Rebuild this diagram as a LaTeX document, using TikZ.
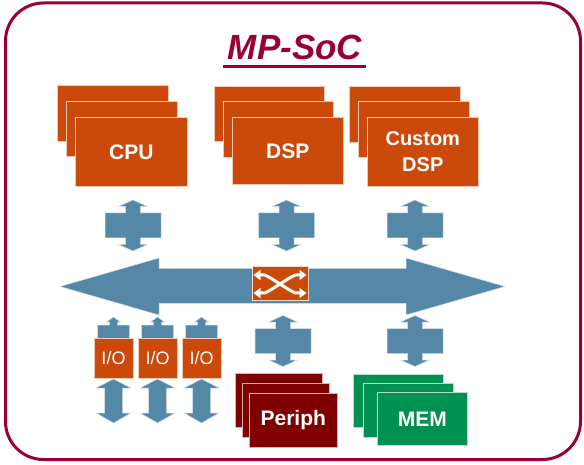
\documentclass[tikz,border=0pt]{standalone}
\usepackage{fontspec}
\setmainfont{Liberation Sans}
\usetikzlibrary{arrows.meta}
\definecolor{crim}{HTML}{990033}
\definecolor{orng}{HTML}{CB4A0A}
\definecolor{dred}{HTML}{800000}
\definecolor{mgreen}{HTML}{009150}
\definecolor{busblue}{HTML}{5588A6}
\tikzset{
  card/.style={draw=white!70!#1, line width=0.6pt, fill=#1, inner sep=0pt, anchor=north west, text=white, font=\bfseries\fontsize{21}{26}\selectfont, align=center},
  iobox/.style={fill=orng, draw=white!70!orng, line width=0.5pt, inner sep=0pt, minimum width=39pt, minimum height=40pt, text=white, font=\fontsize{18}{20}\selectfont},
  blueshape/.style={fill=busblue, draw=white!75!busblue, line width=0.5pt},
  swarrow/.style={white, line width=3pt, {Triangle[length=7pt,width=10pt]}-{Triangle[length=7pt,width=10pt]}},
  udcall/.pic={
    \path[blueshape] (0,-25.5) -- (14.5,-19) -- (7.5,-19) -- (7.5,-12.5) -- (28,-12.5) -- (28,12.5) -- (7.5,12.5) -- (7.5,19) -- (14.5,19) -- (0,25.5) -- (-14.5,19) -- (-7.5,19) -- (-7.5,12.5) -- (-28,12.5) -- (-28,-12.5) -- (-7.5,-12.5) -- (-7.5,-19) -- (-14.5,-19) -- cycle;
  },
  uphalf/.pic={
    \path[blueshape] (0,-21) -- (7,-16) -- (4,-16) -- (4,-13) -- (16,-13) -- (16,2) -- (-16,2) -- (-16,-13) -- (-4,-13) -- (-4,-16) -- (-7,-16) -- cycle;
  },
  dblarrow/.pic={
    \path[blueshape] (0,0) -- (17.5,9) -- (9,9) -- (9,34) -- (17.5,34) -- (0,44) -- (-17.5,34) -- (-9,34) -- (-9,9) -- (-17.5,9) -- cycle;
  }
}
\begin{document}
\begin{tikzpicture}[x=1pt,y=-1pt]
\useasboundingbox (0,0) rectangle (584,465);
\fill[white] (0,0) rectangle (584,465);
% frame
\draw[crim, line width=3pt, rounded corners=38pt] (5.5,3) rectangle (580.5,459.5);
% title
\node[text=crim, font=\bfseries\itshape\fontsize{35}{40}\selectfont] (title) at (295,47) {MP-SoC};
\draw[crim, line width=2.2pt] (223,66.5) -- (366,66.5);

% CPU stack
\node[card=orng, minimum width=111pt, minimum height=56pt] (cpu1) at (57,85) {};
\node[card=orng, minimum width=111pt, minimum height=55pt] (cpu2) at (66,101) {};
\node[card=orng, minimum width=112pt, minimum height=69pt] (cpu) at (75,117) {CPU};
% DSP stack
\node[card=orng, minimum width=110pt, minimum height=55pt] (dsp1) at (214,86) {};
\node[card=orng, minimum width=110pt, minimum height=56pt] (dsp2) at (223,101) {};
\node[card=orng, minimum width=111pt, minimum height=67pt] (dsp) at (232,117) {DSP};
% Custom DSP stack
\node[card=orng, minimum width=111pt, minimum height=56pt] (cdsp1) at (349,86) {};
\node[card=orng, minimum width=111pt, minimum height=56pt] (cdsp2) at (358,101) {};
\node[card=orng, minimum width=111pt, minimum height=69pt, font=\bfseries\fontsize{20}{26}\selectfont] (cdsp) at (367,117) {Custom\\DSP};

% connectors top
\pic at (133,225.5) {udcall};
\pic at (286.5,225.5) {udcall};
\pic at (415,225.5) {udcall};

% bus
\path[blueshape] (60,286.5) -- (159,258) -- (159,268.5) -- (406,268.5) -- (406,258) -- (505,286.5) -- (406,315) -- (406,303.5) -- (159,303.5) -- (159,315) -- cycle;
% switch
\node[fill=orng, draw=white!80!orng, line width=0.8pt, minimum width=56pt, minimum height=34pt, inner sep=0pt] (sw) at (280,283) {};
\draw[swarrow] (253.5,275) -- (264,275) .. controls (268,275) and (292,293) .. (296,293) -- (306.5,293);
\draw[swarrow] (253.5,293) -- (264,293) .. controls (268,293) and (292,275) .. (296,275) -- (306.5,275);

% lower connectors
\pic at (283,341) {udcall};
\pic at (415,341) {udcall};

% I/O
\pic at (113.5,338) {uphalf};
\pic at (157.5,338) {uphalf};
\pic at (201.5,338) {uphalf};
\node[iobox] (io1) at (113.5,358) {I/O};
\node[iobox] (io2) at (157.5,358.5) {I/O};
\node[iobox] (io3) at (201.5,358) {I/O};
\pic at (113.5,379) {dblarrow};
\pic at (157.5,379) {dblarrow};
\pic at (201.5,379) {dblarrow};

% Periph stack
\node[card=dred, minimum width=87pt, minimum height=54pt] (per1) at (235,373) {};
\node[card=dred, minimum width=87pt, minimum height=54pt] (per2) at (242,383) {};
\node[card=dred, minimum width=88pt, minimum height=54pt] (per) at (249,393) {Periph};
% MEM stack
\node[card=mgreen, minimum width=90pt, minimum height=53pt] (mem1) at (353,374) {};
\node[card=mgreen, minimum width=90pt, minimum height=54pt] (mem2) at (363,383) {};
\node[card=mgreen, minimum width=90pt, minimum height=53pt] (mem) at (377,392) {MEM};
\end{tikzpicture}
\end{document}
